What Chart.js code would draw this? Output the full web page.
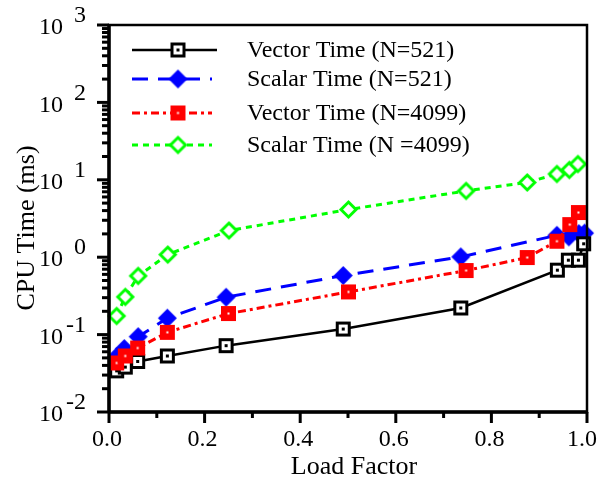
<!DOCTYPE html>
<html>
<head>
<meta charset="utf-8">
<script src="https://cdn.jsdelivr.net/npm/chart.js@4.4.1/dist/chart.umd.min.js"></script>
<style>
  html, body { margin: 0; padding: 0; background: #fff; }
  #wrap { width: 598px; height: 483px; }
</style>
</head>
<body>
<div id="wrap"><canvas id="c" width="598" height="483"></canvas></div>
<script>
// ---- data ----
const seriesNames = ['Vector Time (N=521)', 'Scalar Time (N=521)', 'Vector Time (N=4099)', 'Scalar Time (N =4099)'];

const vectorX521 = [0.016, 0.034, 0.060, 0.122, 0.245, 0.490, 0.736, 0.938, 0.961, 0.982, 0.993];
const vectorT521 = [0.034, 0.038, 0.045, 0.053, 0.072, 0.118, 0.221, 0.68, 0.915, 0.915, 1.49];

const scalarX521 = [0.016, 0.032, 0.061, 0.122, 0.245, 0.490, 0.736, 0.937, 0.962, 0.983, 0.995];
const scalarT521 = [0.052, 0.066, 0.094, 0.163, 0.304, 0.58, 1.01, 1.92, 1.83, 2.02, 2.05];

const vectorX4099 = [0.016, 0.034, 0.060, 0.122, 0.250, 0.501, 0.747, 0.875, 0.937, 0.964, 0.982];
const vectorT4099 = [0.043, 0.053, 0.067, 0.107, 0.187, 0.356, 0.673, 0.99, 1.61, 2.64, 3.78];

const scalarX4099 = [0.016, 0.034, 0.061, 0.123, 0.251, 0.501, 0.747, 0.875, 0.937, 0.963, 0.981];
const scalarT4099 = [0.174, 0.307, 0.573, 1.08, 2.21, 4.13, 7.19, 9.23, 11.9, 13.4, 16.0];

const xTickValues = [0, 0.2, 0.4, 0.6, 0.8, 1.0];
const xTickLabels = ['0.0', '0.2', '0.4', '0.6', '0.8', '1.0'];
const xMinorValues = [0.1, 0.3, 0.5, 0.7, 0.9];
const yTickExponents = [-2, -1, 0, 1, 2, 3];
const yTickExpLabels = ['-2', '-1', '0', '1', '2', '3'];

const xTitle = 'Load Factor';
const yTitle = 'CPU Time (ms)';

// ---- markers ----
function marker(draw) {
  const c = document.createElement('canvas');
  c.width = 21; c.height = 21;
  const g = c.getContext('2d');
  draw(g);
  return c;
}
const mBlack = marker(g => {
  g.fillStyle = '#000'; g.fillRect(3, 3, 15, 15);
  g.fillStyle = '#fff'; g.fillRect(6, 6, 9, 9);
  g.fillStyle = '#000'; g.fillRect(9, 9, 3, 3);
});
const mRed = marker(g => {
  g.fillStyle = '#ff0000'; g.fillRect(3, 3, 15, 15);
  g.fillStyle = '#fff'; g.fillRect(9.5, 9.5, 2, 2);
});
const mBlue = marker(g => {
  g.fillStyle = '#0000ff';
  g.beginPath(); g.moveTo(10.5, 1); g.lineTo(20, 10.5); g.lineTo(10.5, 20); g.lineTo(1, 10.5); g.closePath(); g.fill();
});
const mGreen = marker(g => {
  g.fillStyle = '#fff'; g.strokeStyle = '#00ff00'; g.lineWidth = 3;
  g.beginPath(); g.moveTo(10.5, 3); g.lineTo(18, 10.5); g.lineTo(10.5, 18); g.lineTo(3, 10.5); g.closePath(); g.fill(); g.stroke();
});

function pts(xs, ys) { return xs.map((x, i) => ({ x: x, y: ys[i] })); }

const FONT = "'Liberation Serif', 'Times New Roman', serif";

const datasets = [
  { label: seriesNames[0], data: pts(vectorX521, vectorT521), borderColor: '#000', borderWidth: 2.5, borderDash: [], pointStyle: mBlack, order: 1 },
  { label: seriesNames[1], data: pts(scalarX521, scalarT521), borderColor: '#0000ff', borderWidth: 3, borderDash: [16, 10], pointStyle: mBlue, order: 2 },
  { label: seriesNames[2], data: pts(vectorX4099, vectorT4099), borderColor: '#ff0000', borderWidth: 3, borderDash: [8, 4, 3, 4], pointStyle: mRed, order: 0 },
  { label: seriesNames[3], data: pts(scalarX4099, scalarT4099), borderColor: '#00ff00', borderWidth: 3, borderDash: [6, 5], pointStyle: mGreen, order: 3 }
].map(d => Object.assign(d, { fill: false, tension: 0, pointRadius: 7, clip: false, backgroundColor: d.borderColor }));

const decorPlugin = {
  id: 'decor',
  afterDraw(chart) {
    const ctx = chart.ctx, a = chart.chartArea, xs = chart.scales.x, ys = chart.scales.y;
    ctx.save();
    ctx.strokeStyle = '#000';
    ctx.lineCap = 'butt';
    function ln(x1, y1, x2, y2, w) { ctx.lineWidth = w; ctx.beginPath(); ctx.moveTo(x1, y1); ctx.lineTo(x2, y2); ctx.stroke(); }
    // frame
    ctx.lineWidth = 2.5;
    ctx.strokeRect(a.left, a.top, a.right - a.left, a.bottom - a.top);
    ln(a.left, a.top - 1, a.left, a.bottom + 1, 3.5);
    ln(a.left - 1, a.bottom, a.right + 1, a.bottom, 3.5);
    // y ticks
    for (let i = 0; i < yTickExponents.length; i++) {
      const e = yTickExponents[i];
      const py = ys.getPixelForValue(Math.pow(10, e));
      ln(a.left - 12, py, a.left, py, 3);
      if (i < yTickExponents.length - 1) {
        for (let k = 2; k <= 9; k++) {
          const q = ys.getPixelForValue(k * Math.pow(10, e));
          ln(a.left - 7, q, a.left, q, 3);
        }
      }
      ctx.fillStyle = '#000';
      ctx.font = '24px ' + FONT;
      ctx.textAlign = 'right'; ctx.textBaseline = 'middle';
      ctx.fillText('10', 63, py + 3);
      ctx.fillText(yTickExpLabels[i], 86, py - 9);
    }
    // x ticks
    xTickValues.forEach((v, i) => {
      const px = xs.getPixelForValue(v);
      ln(px, a.bottom, px, a.bottom + 11, 3);
      ctx.font = '24px ' + FONT;
      ctx.textBaseline = 'middle';
      const w = ctx.measureText(xTickLabels[i]).width;
      let cx = px - 2;
      if (cx + w / 2 > 597) cx = 597 - w / 2;
      ctx.textAlign = 'center';
      ctx.fillText(xTickLabels[i], cx, 440);
    });
    xMinorValues.forEach(v => {
      const px = xs.getPixelForValue(v);
      ln(px, a.bottom, px, a.bottom + 6, 3);
    });
    // axis titles
    ctx.font = '26px ' + FONT;
    ctx.textAlign = 'center'; ctx.textBaseline = 'middle';
    ctx.fillText(xTitle, (a.left + a.right) / 2 + 6, 467);
    ctx.save();
    ctx.translate(27, 228);
    ctx.rotate(-Math.PI / 2);
    ctx.fillText(yTitle, 0, 0);
    ctx.restore();
    // legend
    const rows = [50, 79, 113, 145];
    const lineEnds = [217, 212, 212, 212];
    chart.data.datasets.forEach((d, i) => {
      const ry = rows[i];
      ctx.strokeStyle = d.borderColor;
      ctx.lineWidth = d.borderWidth;
      ctx.setLineDash(d.borderDash);
      ctx.beginPath(); ctx.moveTo(132, ry); ctx.lineTo(lineEnds[i], ry); ctx.stroke();
      ctx.setLineDash([]);
      ctx.drawImage(d.pointStyle, 178 - d.pointStyle.width / 2, ry - d.pointStyle.height / 2);
      ctx.fillStyle = '#000';
      ctx.font = '24px ' + FONT;
      ctx.textAlign = 'left'; ctx.textBaseline = 'middle';
      ctx.fillText(d.label, 247, ry + 1);
    });
    ctx.restore();
  }
};

new Chart(document.getElementById('c'), {
  type: 'line',
  data: { datasets: datasets },
  options: {
    responsive: false,
    animation: false,
    devicePixelRatio: 1,
    layout: { padding: { left: 109, right: 11, top: 25, bottom: 71 } },
    plugins: { legend: { display: false }, tooltip: { enabled: false } },
    scales: {
      x: { type: 'linear', min: 0, max: 1, display: false },
      y: { type: 'logarithmic', min: 0.01, max: 1000, display: false }
    }
  },
  plugins: [decorPlugin]
});
</script>
</body>
</html>
